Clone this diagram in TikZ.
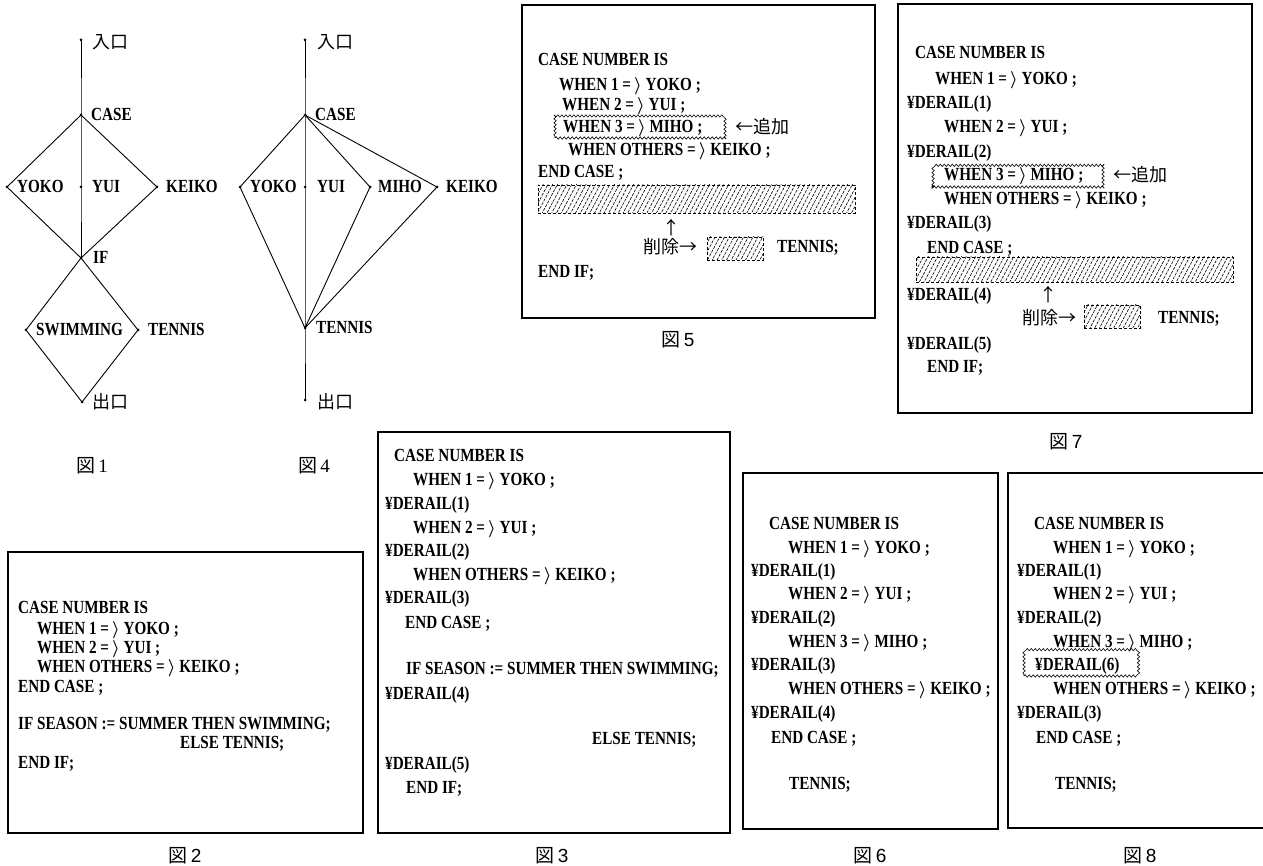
\documentclass[tikz,border=0pt]{standalone}
\usepackage{fontspec}
\setmainfont{Liberation Serif}
\newfontfamily\cjk{Noto Sans CJK JP}
\newfontfamily\code{Liberation Serif}[FakeStretch=0.82]
\newfontfamily\capsans{Liberation Sans}
\usetikzlibrary{patterns.meta,decorations.pathmorphing}
\newcommand\rab{\,{\boldmath$\rangle$}}
\begin{document}
\begin{tikzpicture}[x=1pt,y=-1pt,
  gl/.style={line width=0.9pt},
  cd/.style={anchor=west, inner sep=0pt, text height=12pt, text depth=0pt,
     font=\code\bfseries\fontsize{18.5}{18.5}\selectfont},
  jp/.style={anchor=west, inner sep=0pt, font=\cjk\fontsize{18}{18}\selectfont},
  jpc/.style={inner sep=0pt, font=\cjk\fontsize{18}{18}\selectfont},
  figcap/.style={inner sep=0pt, font=\fontsize{19}{19}\selectfont},
  frame/.style={draw, line width=1.3pt},
  hatch/.style={pattern={Lines[angle=62,distance=4.2pt,line width=0.6pt]},
     draw, dash pattern=on 3pt off 2pt, line width=0.7pt},
  wavy/.style={draw, line width=0.6pt, decorate,
     decoration={snake, amplitude=1.2pt, segment length=4pt}},
  pt/.style={circle, fill, inner sep=0pt, minimum size=3pt}]
\useasboundingbox[fill=white] (0,0) rectangle (1263,866);

% ---------------- Fig 1 ----------------
\node[pt] (e1) at (81,40) {};
\node[pt] (c1) at (81,115) {};
\node[pt] (y1) at (7,187) {};
\node[pt] (m1) at (81,187) {};
\node[pt] (k1) at (157,187) {};
\node[pt] (i1) at (81,258) {};
\node[pt] (s1) at (26,330) {};
\node[pt] (t1) at (138,330) {};
\node[pt] (o1) at (82,402) {};
\draw[gl] (e1.center) -- (c1.center) -- (m1.center) -- (i1.center);
\draw[gl] (c1.center) -- (y1.center) -- (i1.center) -- (k1.center) -- (c1.center);
\draw[gl] (i1.center) -- (s1.center) -- (o1.center) -- (t1.center) -- (i1.center);
\node[jp] (la1) at (92,42) {入口};
\node[cd] (lc1) at (91,115) {CASE};
\node[cd] (ly1) at (17,187) {YOKO};
\node[cd] (lm1) at (92,187) {YUI};
\node[cd] (lk1) at (166,187) {KEIKO};
\node[cd] (li1) at (93,258) {IF};
\node[cd] (ls1) at (36,330) {SWIMMING};
\node[cd] (lt1) at (148,330) {TENNIS};
\node[jp] (lo1) at (92,402) {出口};
\node[figcap] (cap1) at (92,466) {{\cjk 図}\,1};

% ---------------- Fig 4 ----------------
\node[pt] (e4) at (305,40) {};
\node[pt] (c4) at (305,115) {};
\node[pt] (y4) at (240,187) {};
\node[pt] (m4) at (305,187) {};
\node[pt] (h4) at (370,187) {};
\node[pt] (k4) at (437,187) {};
\node[pt] (t4) at (305,328) {};
\node[pt] (o4) at (305,400) {};
\draw[gl] (e4.center) -- (c4.center) -- (m4.center) -- (t4.center) -- (o4.center);
\draw[gl] (c4.center) -- (y4.center) -- (t4.center);
\draw[gl] (c4.center) -- (h4.center) -- (t4.center);
\draw[gl] (c4.center) -- (k4.center) -- (t4.center);
\node[jp] (la4) at (317,42) {入口};
\node[cd] (lc4) at (315,115) {CASE};
\node[cd] (ly4) at (250,187) {YOKO};
\node[cd] (lm4) at (317,187) {YUI};
\node[cd] (lh4) at (378,187) {MIHO};
\node[cd] (lk4) at (446,187) {KEIKO};
\node[cd] (lt4) at (316,328) {TENNIS};
\node[jp] (lo4) at (317,402) {出口};
\node[figcap] (cap4) at (314,466) {{\cjk 図}\,4};

% ---------------- Fig 5 ----------------
\node[frame, minimum width=353pt, minimum height=313pt, inner sep=0pt] (b5) at (698.5,161.5) {};
\node[cd] (f5a) at (538,60) {CASE NUMBER IS};
\node[cd] (f5b) at (559,85) {WHEN 1 =\rab{} YOKO ;};
\node[cd] (f5c) at (562,105) {WHEN 2 =\rab{} YUI ;};
\node[wavy, minimum width=170pt, minimum height=23pt, inner sep=0pt] (w5) at (640,126.5) {};
\node[cd] (f5d) at (563,127) {WHEN 3 =\rab{} MIHO ;};
\node[jp] (f5add) at (735,127) {←追加};
\node[cd] (f5e) at (568,150) {WHEN OTHERS =\rab{} KEIKO ;};
\node[cd] (f5f) at (538,172) {END CASE ;};
\node[hatch, minimum width=317pt, minimum height=28pt, inner sep=0pt] (h5a) at (696.5,199) {};
\node[jpc] (u5) at (671,228) {↑};
\node[jp] (f5del) at (643,247) {削除→};
\node[hatch, minimum width=56pt, minimum height=23pt, inner sep=0pt] (h5b) at (735,248.5) {};
\node[cd] (f5g) at (777,247) {TENNIS;};
\node[cd] (f5h) at (538,272) {END IF;};
\node[figcap] (cap5) at (678,340) {{\cjk 図}\,{\capsans 5}};

% ---------------- Fig 7 ----------------
\node[frame, minimum width=354pt, minimum height=409pt, inner sep=0pt] (b7) at (1075,208.5) {};
\node[cd] (f7a) at (915,53) {CASE NUMBER IS};
\node[cd] (f7b) at (935,79) {WHEN 1 =\rab{} YOKO ;};
\node[cd] (f7c) at (907,103) {¥DERAIL(1)};
\node[cd] (f7d) at (944,127) {WHEN 2 =\rab{} YUI ;};
\node[cd] (f7e) at (907,152) {¥DERAIL(2)};
\node[wavy, minimum width=170pt, minimum height=25pt, inner sep=0pt] (w7) at (1018,174.5) {};
\node[cd] (f7f) at (944,175) {WHEN 3 =\rab{} MIHO ;};
\node[jp] (f7add) at (1113,175) {←追加};
\node[cd] (f7g) at (944,199) {WHEN OTHERS =\rab{} KEIKO ;};
\node[cd] (f7h) at (907,223) {¥DERAIL(3)};
\node[cd] (f7i) at (927,248) {END CASE ;};
\node[hatch, minimum width=317pt, minimum height=25pt, inner sep=0pt] (h7a) at (1074.5,269.5) {};
\node[cd] (f7j) at (907,295) {¥DERAIL(4)};
\node[jpc] (u7) at (1048,295) {↑};
\node[jp] (f7del) at (1022,318) {削除→};
\node[hatch, minimum width=56pt, minimum height=23pt, inner sep=0pt] (h7b) at (1112,316.5) {};
\node[cd] (f7k) at (1158,318) {TENNIS;};
\node[cd] (f7l) at (907,343) {¥DERAIL(5)};
\node[cd] (f7m) at (927,367) {END IF;};
\node[figcap] (cap7) at (1066,442) {{\cjk 図}\,{\capsans 7}};

% ---------------- Fig 2 ----------------
\node[frame, minimum width=355pt, minimum height=281pt, inner sep=0pt] (b2) at (185.5,692.5) {};
\node[cd] (f2a) at (18,607) {CASE NUMBER IS};
\node[cd] (f2b) at (37,628) {WHEN 1 =\rab{} YOKO ;};
\node[cd] (f2c) at (37,647) {WHEN 2 =\rab{} YUI ;};
\node[cd] (f2d) at (37,666) {WHEN OTHERS =\rab{} KEIKO ;};
\node[cd] (f2e) at (18,686) {END CASE ;};
\node[cd] (f2f) at (18,723) {IF SEASON := SUMMER THEN SWIMMING;};
\node[cd] (f2g) at (180,742) {ELSE TENNIS;};
\node[cd] (f2h) at (18,762) {END IF;};
\node[figcap] (cap2) at (185,856) {{\cjk 図}\,{\capsans 2}};

% ---------------- Fig 3 ----------------
\node[frame, minimum width=352pt, minimum height=401pt, inner sep=0pt] (b3) at (554,632.5) {};
\node[cd] (f3a) at (394,455) {CASE NUMBER IS};
\node[cd] (f3b) at (413,479) {WHEN 1 =\rab{} YOKO ;};
\node[cd] (f3c) at (385,503) {¥DERAIL(1)};
\node[cd] (f3d) at (413,527) {WHEN 2 =\rab{} YUI ;};
\node[cd] (f3e) at (385,550) {¥DERAIL(2)};
\node[cd] (f3f) at (413,574) {WHEN OTHERS =\rab{} KEIKO ;};
\node[cd] (f3g) at (385,597) {¥DERAIL(3)};
\node[cd] (f3h) at (405,622) {END CASE ;};
\node[cd] (f3i) at (406,668) {IF SEASON := SUMMER THEN SWIMMING;};
\node[cd] (f3j) at (385,693) {¥DERAIL(4)};
\node[cd] (f3k) at (592,738) {ELSE TENNIS;};
\node[cd] (f3l) at (385,763) {¥DERAIL(5)};
\node[cd] (f3m) at (406,787) {END IF;};
\node[figcap] (cap3) at (552,856) {{\cjk 図}\,{\capsans 3}};

% ---------------- Fig 6 ----------------
\node[frame, minimum width=255pt, minimum height=356pt, inner sep=0pt] (b6) at (870.5,651) {};
\node[cd] (f6a) at (769,523) {CASE NUMBER IS};
\node[cd] (f6b) at (788,547) {WHEN 1 =\rab{} YOKO ;};
\node[cd] (f6c) at (751,570) {¥DERAIL(1)};
\node[cd] (f6d) at (788,593) {WHEN 2 =\rab{} YUI ;};
\node[cd] (f6e) at (751,617) {¥DERAIL(2)};
\node[cd] (f6f) at (788,641) {WHEN 3 =\rab{} MIHO ;};
\node[cd] (f6g) at (751,664) {¥DERAIL(3)};
\node[cd] (f6h) at (788,688) {WHEN OTHERS =\rab{} KEIKO ;};
\node[cd] (f6i) at (751,712) {¥DERAIL(4)};
\node[cd] (f6j) at (771,737) {END CASE ;};
\node[cd] (f6k) at (789,783) {TENNIS;};
\node[figcap] (cap6) at (870,856) {{\cjk 図}\,{\capsans 6}};

% ---------------- Fig 8 ----------------
\node[frame, minimum width=258pt, minimum height=355pt, inner sep=0pt] (b8) at (1137,650.5) {};
\node[cd] (f8a) at (1034,523) {CASE NUMBER IS};
\node[cd] (f8b) at (1053,547) {WHEN 1 =\rab{} YOKO ;};
\node[cd] (f8c) at (1017,570) {¥DERAIL(1)};
\node[cd] (f8d) at (1053,593) {WHEN 2 =\rab{} YUI ;};
\node[cd] (f8e) at (1017,617) {¥DERAIL(2)};
\node[cd] (f8f) at (1053,641) {WHEN 3 =\rab{} MIHO ;};
\node[wavy, minimum width=112pt, minimum height=25pt, inner sep=0pt] (w8) at (1080,663.5) {};
\node[cd] (f8g) at (1035,664) {¥DERAIL(6)};
\node[cd] (f8h) at (1053,688) {WHEN OTHERS =\rab{} KEIKO ;};
\node[cd] (f8i) at (1017,712) {¥DERAIL(3)};
\node[cd] (f8j) at (1036,737) {END CASE ;};
\node[cd] (f8k) at (1055,783) {TENNIS;};
\node[figcap] (cap8) at (1140,856) {{\cjk 図}\,{\capsans 8}};
\end{tikzpicture}
\end{document}
